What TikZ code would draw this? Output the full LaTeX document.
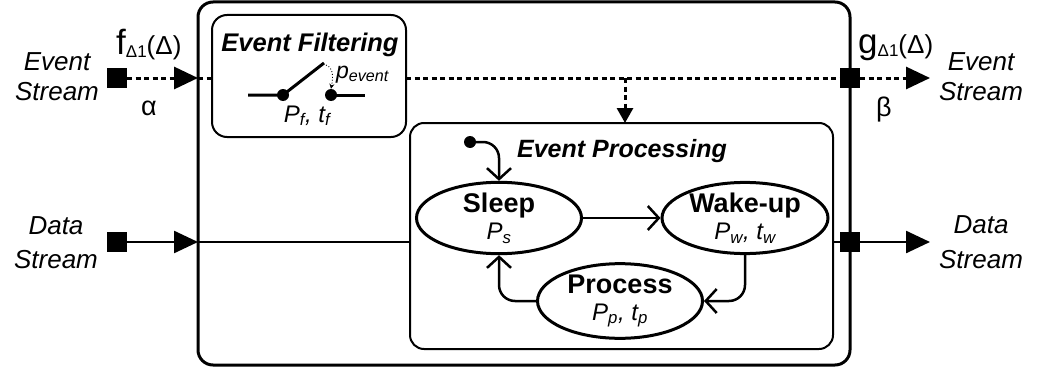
\documentclass[tikz,border=0pt]{standalone}
\usepackage{fontspec}
\setmainfont{Liberation Sans}
\usetikzlibrary{arrows.meta,shapes.geometric}
\newcommand{\setpx}[2]{\fontsize{#1}{#2}\selectfont}

\tikzset{
  box/.style={draw, inner sep=0pt, outer sep=0pt},
  stream/.style={line width=2.5pt},
  evstream/.style={line width=3pt, dash pattern=on 5pt off 3.5pt},
  bigtip/.style={-{Triangle[length=24pt,width=22pt]}},
  port/.style={fill=black, minimum size=20pt, inner sep=0pt, outer sep=0pt},
  state/.style={draw, ellipse, line width=3pt, inner sep=0pt, align=center, font=\setpx{27}{27}},
  trans/.style={line width=2.5pt, -{Straight Barb[length=11pt,width=24pt]}, rounded corners=16pt},
  dot/.style={circle, fill=black, minimum size=12pt, inner sep=0pt},
  lbl/.style={inner sep=0pt, align=center},
}

\begin{document}
\begin{tikzpicture}[x=1pt,y=-1pt]
\useasboundingbox (0,0) rectangle (1040,369);

% component and its two parts
\node[box, line width=3pt, rounded corners=15pt, minimum width=652pt, minimum height=363pt] (sys) at (524,183.5) {};
\node[box, line width=2pt, rounded corners=15pt, minimum width=194pt, minimum height=122pt] (filt) at (309,76) {};
\node[box, line width=2pt, rounded corners=14pt, minimum width=423pt, minimum height=226pt] (proc) at (621.5,236) {};

% ports
\node[port] (esin) at (117,78) {};
\node[port] (dsin) at (117,242) {};
\node[port] (esout) at (850,78) {};
\node[port] (dsout) at (850,242) {};
\coordinate (esend) at (930,78);
\coordinate (dsend) at (930,242);
\coordinate (tap) at (625,78);

% event stream
\draw[evstream, bigtip] (esin.east) -- (esin -| sys.west);
\draw[evstream] (esin -| sys.west) -- (esin -| filt.west);
\draw[evstream] (esin -| filt.east) -- (esout.west);
\draw[evstream, bigtip] (esout.east) -- (esend);
\draw[evstream, -{Triangle[length=15pt,width=16pt]}] (tap) -- (tap |- proc.north);

% data stream
\draw[stream, bigtip] (dsin.east) -- (dsin -| sys.west);
\draw[stream] (dsin -| sys.west) -- (dsin -| proc.west);
\draw[stream] (dsin -| proc.east) -- (dsout);
\draw[stream, bigtip] (dsout.east) -- (dsend);

% stream labels
\node[lbl, anchor=north, font=\setpx{26}{30}\itshape] (eslabin) at (57,52) {Event\\Stream};
\node[lbl, anchor=north, font=\setpx{26}{34}\itshape] (dslabin) at (56,216) {Data\\Stream};
\node[lbl, anchor=north, font=\setpx{26}{30}\itshape] (eslabout) at (981,52) {Event\\Stream};
\node[lbl, anchor=north, font=\setpx{26}{35}\itshape] (dslabout) at (981,215) {Data\\Stream};
\node[lbl, anchor=base west] (fin) at (116,55) {\setpx{35}{35}f\raisebox{-3pt}{\setpx{17}{17}Δ1}\setpx{26}{26}(Δ)};
\node[lbl, anchor=base west] (gout) at (858,53) {\setpx{35}{35}g\raisebox{-3pt}{\setpx{17}{17}Δ1}\setpx{26}{26}(Δ)};
\node[lbl, anchor=base, font=\setpx{27}{27}] (alpha) at (149,115) {α};
\node[lbl, anchor=base, font=\setpx{27}{27}] (beta) at (884,116) {β};

% event filtering: switch
\node[lbl, anchor=base, font=\setpx{25.5}{25.5}\bfseries\itshape] (filttitle) at (310,52) {Event Filtering};
\coordinate (swl) at (248,95);
\node[dot] (sw1) at (283,95) {};
\coordinate (swtip) at (324,63);
\node[dot] (sw2) at (331,95) {};
\coordinate (swr) at (365,95);
\draw[line width=3pt] (swl) -- (sw1.center) -- (swtip);
\draw[line width=3pt] (sw2.center) -- (swr);
\draw[line width=0.9pt, dotted, -{Stealth[length=5pt,width=5pt]}] ([shift={(2,2)}]swtip) .. controls (334,68) and (333,78) .. (sw2.north);
\node[lbl, anchor=base west, font=\setpx{23}{23}\itshape] (pev) at (336,78) {p\textsubscript{event}};
\node[lbl, anchor=base, font=\setpx{24}{24}\itshape] (pft) at (307,122) {P\textsubscript{f}, t\textsubscript{f}};

% event processing: state machine
\node[lbl, anchor=base, font=\setpx{25}{25}\bfseries\itshape] (proctitle) at (622,157) {Event Processing};
\node[state, minimum width=165pt, minimum height=66pt] (sleep) at (499,218) {{\bfseries Sleep}\\{\setpx{24}{27}\itshape P\textsubscript{s}}};
\node[state, minimum width=166pt, minimum height=68pt] (wake) at (745,218) {{\bfseries Wake-up}\\{\setpx{24}{27}\itshape P\textsubscript{w}, t\textsubscript{w}}};
\node[state, minimum width=165pt, minimum height=72pt] (process) at (620,301) {{\bfseries Process}\\{\setpx{24}{27}\itshape P\textsubscript{p}, t\textsubscript{p}}};
\node[dot] (init) at (470,142) {};

\draw[trans] (init.center) -| (sleep.north);
\draw[trans] (sleep.east) -- (wake.west);
\draw[trans] (wake.south) |- (process.east);
\draw[trans] (process.west) -| (sleep.south);
\end{tikzpicture}
\end{document}
